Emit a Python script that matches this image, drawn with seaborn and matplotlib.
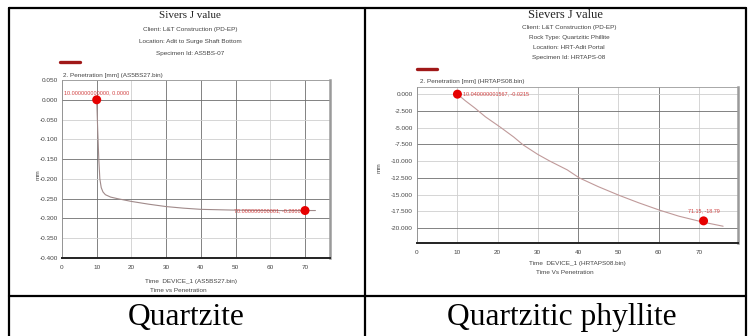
import matplotlib
matplotlib.use("Agg")
import matplotlib.pyplot as plt
import numpy as np
import pandas as pd
import seaborn as sns
from matplotlib.lines import Line2D
from matplotlib.ticker import MultipleLocator, AutoMinorLocator, FormatStrFormatter

# ==========================================
# DATA
# ==========================================

# Quartzite (left)
qz_time = [10.0, 10.3, 10.6, 10.9, 11.3, 11.8, 12.5, 14, 16, 20, 25, 30, 35, 40, 50, 60, 70, 73]
qz_pen = [0.0, -0.08, -0.15, -0.20, -0.222, -0.233, -0.240, -0.246, -0.250, -0.257,
          -0.264, -0.270, -0.274, -0.277, -0.279, -0.280, -0.280, -0.280]
qz_pts_time = [10.0, 70.0]
qz_pts_pen = [0.0, -0.28]
qz_pts_text = ["10.000000000000, 0.0000", "70.000000000001, -0.2800"]
qz_yticks = [0.05, 0.0, -0.05, -0.10, -0.15, -0.20, -0.25, -0.30, -0.35, -0.40]
qz_xticks = [0, 10, 20, 30, 40, 50, 60, 70]
qz_header = ["Client: L&T Construction (PD-EP)",
             "Location: Adit to Surge Shaft Bottom",
             "Specimen Id: AS5BS-07"]

# Quartzitic phyllite (right)
qp_time = [10.04, 12, 14.4, 17, 20.6, 24, 26.4, 30, 33, 37.3, 40.3, 45, 50.2, 55, 60.2, 65, 71.1, 76]
qp_pen = [-0.02, -1.0, -2.1, -3.4, -4.9, -6.4, -7.6, -9.0, -10.0, -11.3, -12.5,
          -13.8, -15.1, -16.2, -17.3, -18.2, -19.1, -19.7]
qp_pts_time = [10.04, 71.15]
qp_pts_pen = [-0.02, -18.9]
qp_pts_text = ["10.040000001567, -0.0215", "71.15, -18.79"]
qp_yticks = [0.0, -2.5, -5.0, -7.5, -10.0, -12.5, -15.0, -17.5, -20.0]
qp_xticks = [0, 10, 20, 30, 40, 50, 60, 70]
qp_header = ["Client: L&T Construction (PD-EP)",
             "Rock Type: Quartzitic Phillite",
             "Location: HRT-Adit Portal",
             "Specimen Id: HRTAPS-08"]

captions = ["Quartzite", "Quartzitic phyllite"]

# ==========================================
# FIGURE
# ==========================================
sns.set_theme(style="white")
plt.rcParams["font.family"] = ["Liberation Sans", "DejaVu Sans"]

W, H = 749, 336
fig = plt.figure(figsize=(W / 100, H / 100), dpi=100)
fig.patch.set_facecolor("white")


def fx(x):
    return x / W


def fy(y):
    return 1 - y / H


def axes_px(x0, y0, x1, y1):
    return fig.add_axes([fx(x0), fy(y1), (x1 - x0) / W, (y1 - y0) / H])


def ftext(x, y, s, **kw):
    fig.text(fx(x), fy(y), s, **kw)


def fline(xs, ys, lw=1.6, color="black"):
    fig.add_artist(Line2D([fx(v) for v in xs], [fy(v) for v in ys], lw=lw, color=color,
                          transform=fig.transFigure))


def draw_chart(ax, t, p, pt_t, pt_p, xticks, yticks, xlim, ylim, yfmt,
               dark_x, dark_y, line_color, minor_y):
    df = pd.DataFrame({"time": t, "pen": p})
    pts = pd.DataFrame({"time": pt_t, "pen": pt_p})
    sns.lineplot(data=df, x="time", y="pen", ax=ax, color=line_color, lw=0.8,
                 sort=False, estimator=None, zorder=3)
    sns.scatterplot(data=pts, x="time", y="pen", ax=ax, color="#e60000", s=42,
                    edgecolor="none", zorder=5)
    ax.set_xlim(*xlim)
    ax.set_ylim(*ylim)
    ax.set_xticks(xticks)
    ax.set_yticks(yticks)
    ax.yaxis.set_major_formatter(FormatStrFormatter(yfmt))
    ax.xaxis.set_minor_locator(AutoMinorLocator(5))
    ax.yaxis.set_minor_locator(AutoMinorLocator(minor_y))
    ax.set_xlabel("")
    ax.set_ylabel("")
    ax.grid(True, which="major", color="#cfcfcf", lw=0.6)
    for v, gl in zip(xticks, ax.get_xgridlines()):
        if v in dark_x:
            gl.set_color("#6e6e6e")
    for v, gl in zip(yticks, ax.get_ygridlines()):
        if v in dark_y:
            gl.set_color("#6e6e6e")
    ax.set_axisbelow(True)
    ax.tick_params(axis="x", which="major", direction="in", length=4, width=0.6,
                   color="#333333", labelsize=4.6, labelcolor="#444444", pad=5)
    ax.tick_params(axis="x", which="minor", direction="in", length=2.5, width=0.5,
                   color="#333333")
    ax.tick_params(axis="y", which="major", direction="out", length=2, width=0.5,
                   color="#555555", labelsize=4.6, labelcolor="#444444", pad=1)
    ax.tick_params(axis="y", which="minor", direction="in", length=1.5, width=0.4,
                   color="#666666")
    ax.spines["bottom"].set_color("#222222")
    ax.spines["bottom"].set_linewidth(1.4)
    ax.spines["left"].set_color("#8a8a8a")
    ax.spines["left"].set_linewidth(0.6)
    ax.spines["top"].set_color("#9a9a9a")
    ax.spines["top"].set_linewidth(0.6)
    ax.spines["right"].set_color("#9a9a9a")
    ax.spines["right"].set_linewidth(1.8)


small = dict(fontsize=4.6, color="#444444", ha="center", va="center")

# ---- left chart: Quartzite ----
ax1 = axes_px(62, 80, 330, 258)
draw_chart(ax1, qz_time, qz_pen, qz_pts_time, qz_pts_pen, qz_xticks, qz_yticks,
           (0, 77.2), (-0.40, 0.05), "%.3f", [10, 30, 40, 50, 70],
           [0.0, -0.15, -0.25, -0.30], "#a08a8a", 5)
ax1.annotate(qz_pts_text[0], (qz_pts_time[0], qz_pts_pen[0]), xytext=(0, 5),
             textcoords="offset points", fontsize=3.9, color="#d04040",
             ha="center", va="center")
ax1.annotate(qz_pts_text[1], (qz_pts_time[1], qz_pts_pen[1]), xytext=(-3, 0),
             textcoords="offset points", fontsize=3.9, color="#d04040",
             ha="right", va="center")

ftext(190, 16, "Sivers J value", fontsize=8, family="Liberation Serif",
      color="#222222", ha="center", va="center")
for i, s in enumerate(qz_header):
    ftext(190, 30 + i * 12, s, **small)
fline([60, 80], [62, 62], lw=2.4, color="#a01818")
ftext(63, 76, "2. Penetration [mm] (AS5BS27.bin)", fontsize=4.6, color="#444444",
      ha="left", va="center")
ftext(38, 175, "mm", fontsize=4.6, color="#444444", rotation=90, ha="center", va="center")
ftext(191, 281, "Time  DEVICE_1 (AS5BS27.bin)", **small)
ftext(178, 290, "Time vs Penetration", **small)

# ---- right chart: Quartzitic phyllite ----
ax2 = axes_px(417, 87, 738, 243)
draw_chart(ax2, qp_time, qp_pen, qp_pts_time, qp_pts_pen, qp_xticks, qp_yticks,
           (0, 79.7), (-22.2, 1.05), "%.3f", [40, 60],
           [-2.5, -7.5, -12.5, -20.0], "#c09a9a", 4)
ax2.annotate(qp_pts_text[0], (qp_pts_time[0], qp_pts_pen[0]), xytext=(4, 0),
             textcoords="offset points", fontsize=3.9, color="#d04040",
             ha="left", va="center")
ax2.annotate(qp_pts_text[1], (qp_pts_time[1], qp_pts_pen[1]), xytext=(0, 7),
             textcoords="offset points", fontsize=3.9, color="#d04040",
             ha="center", va="center")

ftext(565, 15, "Sievers J value", fontsize=9, family="Liberation Serif",
      color="#222222", ha="center", va="center")
for i, s in enumerate(qp_header):
    ftext(569, 28 + i * 9.8, s, **small)
fline([417, 437], [69, 69], lw=2.4, color="#a01818")
ftext(420, 81, "2. Penetration [mm] (HRTAPS08.bin)", fontsize=4.6, color="#444444",
      ha="left", va="center")
ftext(379, 168, "mm", fontsize=4.6, color="#444444", rotation=90, ha="center", va="center")
ftext(577, 263, "Time  DEVICE_1 (HRTAPS08.bin)", **small)
ftext(565, 273, "Time Vs Penetration", **small)

# ---- table frame and captions ----
fline([9, 746], [8, 8])
fline([9, 9], [8, 336])
fline([365, 365], [8, 336])
fline([746, 746], [8, 336])
fline([9, 746], [296, 296])

for cx, s in zip([186, 562], captions):
    ftext(cx, 317, s, fontsize=22.7, family="Liberation Serif", color="black",
          ha="center", va="center")

fig.savefig("out.png", dpi=100, facecolor="white")
